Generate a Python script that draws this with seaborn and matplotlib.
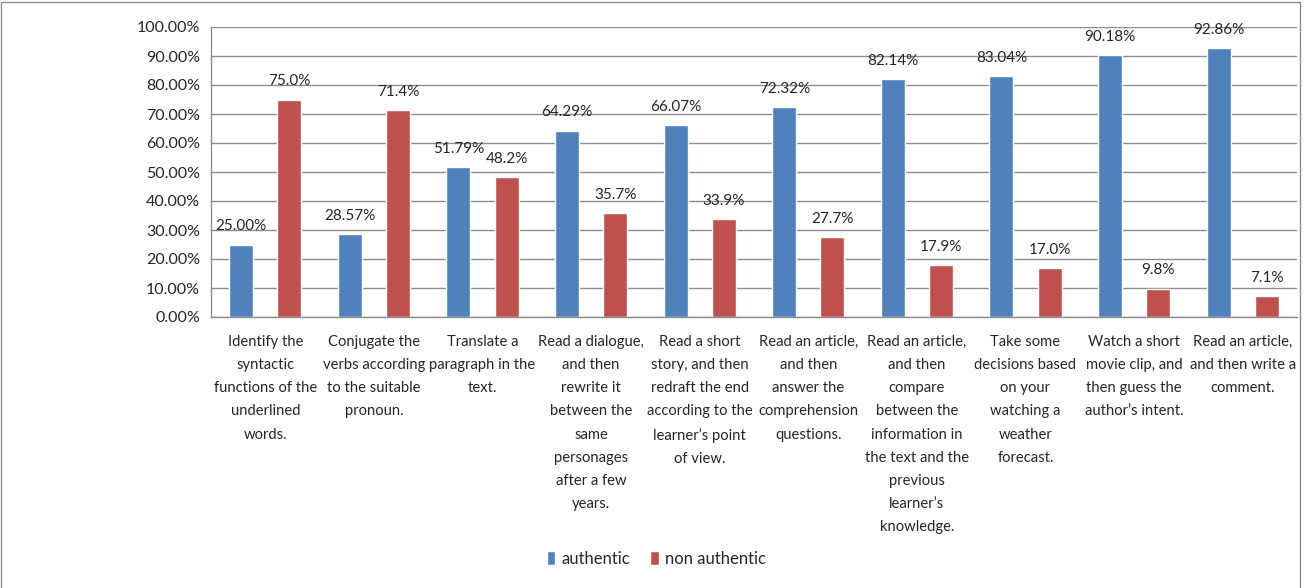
import matplotlib.pyplot as plt
import matplotlib.patches as mpatches
import pandas as pd
import seaborn as sns

# chart data
tasks = [
    "Identify the\nsyntactic\nfunctions of the\nunderlined\nwords.",
    "Conjugate the\nverbs according\nto the suitable\npronoun.",
    "Translate a\nparagraph in the\ntext.",
    "Read a dialogue,\nand then\nrewrite it\nbetween the\nsame\npersonages\nafter a few\nyears.",
    "Read a short\nstory, and then\nredraft the end\naccording to the\nlearner\u2019s point\nof view.",
    "Read an article,\nand then\nanswer the\ncomprehension\nquestions.",
    "Read an article,\nand then\ncompare\nbetween the\ninformation in\nthe text and the\nprevious\nlearner\u2019s\nknowledge.",
    "Take some\ndecisions based\non your\nwatching a\nweather\nforecast.",
    "Watch a short\nmovie clip, and\nthen guess the\nauthor\u2019s intent.",
    "Read an article,\nand then write a\ncomment.",
]
authentic = [25.00, 28.57, 51.79, 64.29, 66.07, 72.32, 82.14, 83.04, 90.18, 92.86]
non_authentic = [75.0, 71.4, 48.2, 35.7, 33.9, 27.7, 17.9, 17.0, 9.8, 7.1]
series = ["authentic", "non authentic"]
colors = ["#4F81BD", "#C0504D"]

df = pd.DataFrame({
    "task": tasks * 2,
    "value": authentic + non_authentic,
    "type": [series[0]] * len(tasks) + [series[1]] * len(tasks),
})

sns.set_style("white")
plt.rcParams['font.family'] = ['Lato', 'DejaVu Sans']

fig = plt.figure(figsize=(13.05, 5.88), dpi=100)
ax = fig.add_axes([211 / 1305, 1 - 317 / 588, 1086 / 1305, 290 / 588])

sns.barplot(data=df, x="task", y="value", hue="type", palette=colors,
            width=0.884, gap=0.5, ax=ax, saturation=1)

ax.set_ylim(0, 100)
ax.set_xlim(-0.5, len(tasks) - 0.5)
ax.set_yticks(range(0, 101, 10))
ax.set_yticklabels([f"{v:.2f}%" for v in range(0, 101, 10)], fontsize=11.5)
ax.set_xlabel("")
ax.set_ylabel("")
ax.grid(True, axis='y', color='#8c8c8c', linewidth=1)
ax.set_axisbelow(True)

for side in ["top", "right"]:
    ax.spines[side].set_visible(False)
for side in ["left", "bottom"]:
    ax.spines[side].set_color('#8c8c8c')
    ax.spines[side].set_linewidth(1)

ax.set_xticks(range(len(tasks)))
ax.set_xticklabels(tasks, fontsize=10.6, linespacing=1.83, va='top')
ax.set_xticks([i - 0.5 for i in range(len(tasks) + 1)], minor=True)
ax.tick_params(axis='x', which='major', length=0, pad=13)
ax.tick_params(axis='x', which='minor', length=5, color='#8c8c8c', direction='out')
ax.tick_params(axis='y', length=5, color='#8c8c8c', direction='out', pad=3)

ax.bar_label(ax.containers[0], fmt="%.2f%%", padding=8, fontsize=11)
ax.bar_label(ax.containers[1], fmt="%.1f%%", padding=8, fontsize=11)

handles, labels = ax.get_legend_handles_labels()
ax.get_legend().remove()
fig.legend(handles, labels, loc='center', bbox_to_anchor=(0.503, 0.05),
           ncol=2, frameon=False, fontsize=12, handlelength=0.5,
           handleheight=1.0, handletextpad=0.4, columnspacing=1.2)

fig.patches.append(mpatches.Rectangle((0.001, -0.01), 0.995, 1.006,
                                      transform=fig.transFigure, fill=False,
                                      edgecolor='#8c8c8c', linewidth=1))

fig.savefig("out.png", dpi=100)
